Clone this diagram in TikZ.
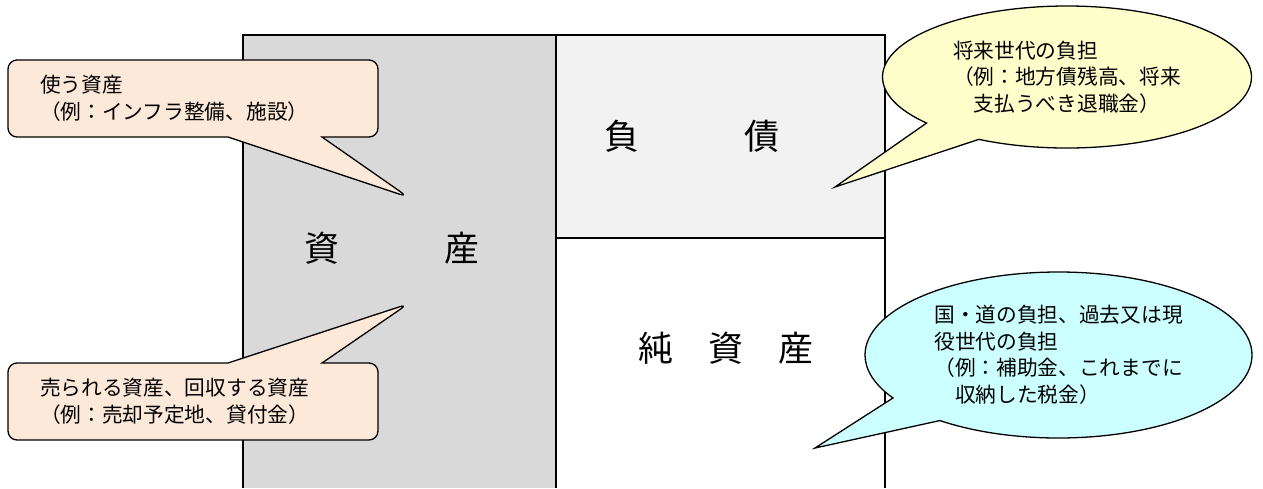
\documentclass[tikz,border=0pt]{standalone}
\usepackage{fontspec}
\setmainfont{Noto Sans CJK JP}
\usepackage{xcolor}
\usepackage{tikz}
\usetikzlibrary{shapes.callouts}

\definecolor{assetgray}{HTML}{D9D9D9}
\definecolor{debtgray}{HTML}{F2F2F2}
\definecolor{peach}{HTML}{FDE9D9}
\definecolor{paleyellow}{HTML}{FFFFCC}
\definecolor{palecyan}{HTML}{CCFFFF}

\tikzset{
  big/.style={font=\fontsize{35}{40}\selectfont, inner sep=0pt},
  note/.style={draw, line width=1.3pt, font=\fontsize{20.7}{26.5}\selectfont, align=left},
  boxnote/.style={note, rectangle callout, fill=peach, rounded corners=9pt,
    minimum width=370pt, minimum height=77pt, text width=306pt,
    inner xsep=32pt, inner ysep=0pt, callout pointer width=94pt},
  ovalnote/.style={note, ellipse callout, inner sep=0pt, callout pointer arc=21},
}

\begin{document}
\begin{tikzpicture}[x=1pt,y=-1pt]
\useasboundingbox (0,0) rectangle (1263,488);

% balance sheet
\fill[assetgray] (243,35) rectangle (556,488);
\fill[debtgray] (556,35) rectangle (885,238);
\draw[line width=1.3pt] (243,488) -- (243,35) -- (885,35) -- (885,488);
\draw[line width=1.3pt] (556,35) -- (556,488);
\draw[line width=1.3pt] (556,238) -- (885,238);

\node[big] (assets) at (392,248) {資　　　産};
\node[big] (debt) at (692,136) {負　　　債};
\node[big] (netassets) at (726,348) {純　資　産};

% callouts
\node[boxnote, callout absolute pointer={(408,197)}] (usenote) at (193,98.5)
  {使う資産\\（例：インフラ整備、施設）};
\node[boxnote, callout absolute pointer={(408,304)}] (sellnote) at (193,401.5)
  {売られる資産、回収する資産\\（例：売却予定地、貸付金）};

\node[ovalnote, fill=paleyellow, minimum width=369pt, minimum height=142pt,
  callout absolute pointer={(835,187)}] (futurenote) at (1067,77)
  {将来世代の負担\\（例：地方債残高、将来\\　支払うべき退職金）};
\node[ovalnote, fill=palecyan, minimum width=387pt, minimum height=166pt,
  callout absolute pointer={(815,448)}] (pastnote) at (1058.5,355)
  {国・道の負担、過去又は現\\役世代の負担\\（例：補助金、これまでに\\　収納した税金）};

\end{tikzpicture}
\end{document}
